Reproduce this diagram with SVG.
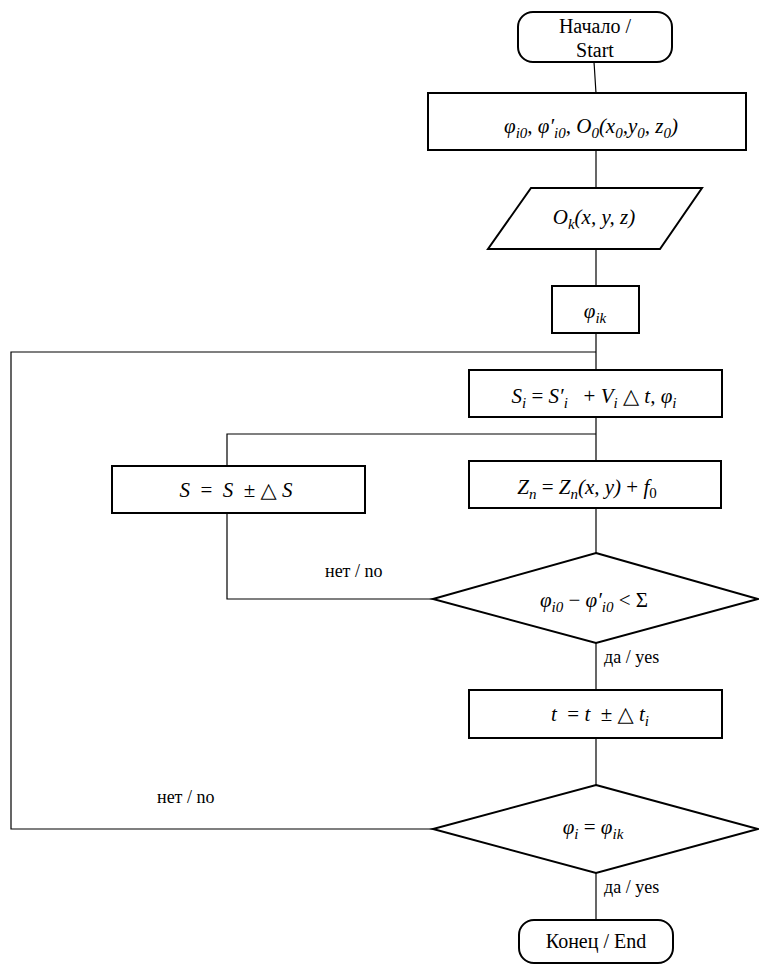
<svg xmlns="http://www.w3.org/2000/svg" width="759" height="967" viewBox="0 0 759 967">
<style>
.shape{fill:#fff;stroke:#000;stroke-width:2}
.conn{fill:none;stroke:#000;stroke-width:1.2}
.t{font-family:"Liberation Serif","Times New Roman","DejaVu Serif",serif;font-size:20px;fill:#000;text-anchor:middle}
.m{font-family:"Liberation Serif","Times New Roman","DejaVu Serif",serif;font-size:21px;font-style:italic;fill:#000;text-anchor:middle}
.s{font-size:15px}
.u{font-style:normal}
.l{font-family:"Liberation Serif","Times New Roman","DejaVu Serif",serif;font-size:18px;fill:#000}
</style>
<rect width="759" height="967" fill="#fff"/>
<g id="connectors">
<polyline class="conn" points="594,62 596,93"/>
<line class="conn" x1="596" y1="150" x2="596" y2="188"/>
<line class="conn" x1="596" y1="249" x2="596" y2="286"/>
<line class="conn" x1="596" y1="333" x2="596" y2="370"/>
<line class="conn" x1="596" y1="417" x2="596" y2="461"/>
<line class="conn" x1="596" y1="508" x2="596" y2="553"/>
<line class="conn" x1="596" y1="643" x2="596" y2="690"/>
<line class="conn" x1="596" y1="738" x2="596" y2="785"/>
<line class="conn" x1="596" y1="873" x2="596" y2="920"/>
<polyline class="conn" points="433,599 227,599 227,434 596,434"/>
<polyline class="conn" points="433,829 11,829 11,352 596,352"/>
<text class="l" x="325" y="577">нет / no</text>
<text class="l" x="604" y="663">да / yes</text>
<text class="l" x="157" y="803">нет / no</text>
<text class="l" x="604" y="893">да / yes</text>
</g>
<g id="start">
<rect class="shape" x="518" y="12" width="154" height="50" rx="15"/>
<text class="t" x="595" y="33">Начало /</text>
<text class="t" x="595" y="57">Start</text>
</g>
<g id="init">
<rect class="shape" x="428" y="93" width="318" height="57"/>
<text class="m" x="591" y="133">φ<tspan class="s" dy="5">i0</tspan><tspan class="u" dy="-5">, </tspan>φ′<tspan class="s" dy="5">i0</tspan><tspan class="u" dy="-5">, </tspan>O<tspan class="s" dy="5">0</tspan><tspan dy="-5">(x</tspan><tspan class="s" dy="5">0</tspan><tspan dy="-5">,y</tspan><tspan class="s" dy="5">0</tspan><tspan dy="-5">, z</tspan><tspan class="s" dy="5">0</tspan><tspan dy="-5">)</tspan></text>
</g>
<g id="input">
<polygon class="shape" points="531,188 702,188 660,249 488,249"/>
<text class="m" x="594" y="224">O<tspan class="s" dy="5">k</tspan><tspan dy="-5">(x, y, z)</tspan></text>
</g>
<g id="phiik">
<rect class="shape" x="552" y="286" width="87" height="47"/>
<text class="m" x="595" y="318">φ<tspan class="s" dy="5">ik</tspan></text>
</g>
<g id="si">
<rect class="shape" x="469" y="370" width="253" height="47"/>
<text class="m" x="594" y="403">S<tspan class="s" dy="5">i</tspan><tspan class="u" dy="-5"> = </tspan>S′<tspan class="s" dy="5">i</tspan><tspan class="u" dy="-5">&#160;&#160; + </tspan>V<tspan class="s" dy="5">i</tspan><tspan class="u" dy="-5"> △ </tspan>t, φ<tspan class="s" dy="5">i</tspan></text>
</g>
<g id="zn">
<rect class="shape" x="469" y="461" width="252" height="47"/>
<text class="m" x="587" y="494">Z<tspan class="s" dy="5">n</tspan><tspan class="u" dy="-5"> = </tspan>Z<tspan class="s" dy="5">n</tspan><tspan dy="-5">(x, y)</tspan><tspan class="u"> + </tspan>f<tspan class="s u" dy="4">0</tspan></text>
</g>
<g id="sbox">
<rect class="shape" x="112" y="466" width="253" height="47"/>
<text class="m" x="236" y="497">S<tspan class="u">&#160;&#160;=&#160;&#160;</tspan>S<tspan class="u">&#160;&#160;± △ </tspan>S</text>
</g>
<g id="dec1">
<polygon class="shape" points="596,553 758,599 596,643 433,599"/>
<text class="m" x="594" y="607">φ<tspan class="s" dy="5">i0</tspan><tspan class="u" dy="-5"> − </tspan>φ′<tspan class="s" dy="5">i0</tspan><tspan class="u" dy="-5"> &lt; Σ</tspan></text>
</g>
<g id="tbox">
<rect class="shape" x="469" y="690" width="253" height="48"/>
<text class="m" x="600" y="721">t<tspan class="u">&#160;&#160;= </tspan>t<tspan class="u">&#160;&#160;± △ </tspan>t<tspan class="s" dy="5">i</tspan></text>
</g>
<g id="dec2">
<polygon class="shape" points="596,785 758,829 596,873 433,829"/>
<text class="m" x="593" y="834">φ<tspan class="s" dy="5">i</tspan><tspan class="u" dy="-5"> = </tspan>φ<tspan class="s" dy="5">ik</tspan></text>
</g>
<g id="end">
<rect class="shape" x="519" y="920" width="154" height="43" rx="15"/>
<text class="t" x="596" y="948">Конец / End</text>
</g>
</svg>
